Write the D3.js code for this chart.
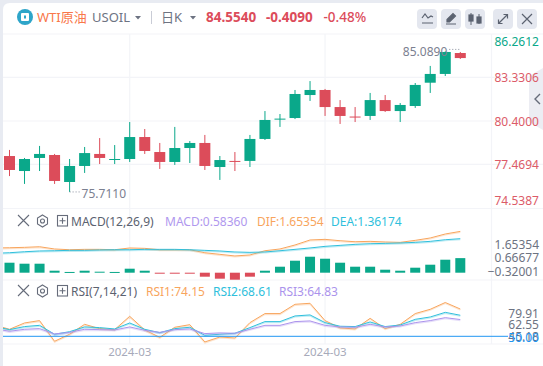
<!DOCTYPE html>
<html>
<head>
<meta charset="utf-8">
<script src="https://cdnjs.cloudflare.com/ajax/libs/d3/7.8.5/d3.min.js"></script>
<style>
  html, body { margin: 0; padding: 0; background: #fff; overflow: hidden; }
  text { font-family: "Noto Sans", "Noto Sans CJK SC", sans-serif; }
  .axis path, .axis line { display: none; }
  .axis text { font-size: 12px; }
</style>
</head>
<body>
<div id="chart"></div>
<script>
// candles, left to right
var opens  = [78.04,77.03,77.91,78.11,76.29,77.37,78.18,77.79,77.84,79.32,78.31,77.64,78.58,78.92,77.30,77.71,77.71,79.19,80.53,80.60,82.15,82.49,81.34,80.70,80.74,81.81,81.07,81.41,82.98,83.57,84.98];
var closes = [77.10,77.84,78.18,76.36,77.37,78.24,77.91,77.84,79.32,78.38,77.64,78.58,78.92,77.37,77.77,77.66,79.19,80.47,80.56,82.22,82.49,81.34,80.74,80.67,81.81,81.07,81.48,82.83,83.57,85.05,84.64];
var highs  = [78.45,77.91,78.72,78.18,77.84,78.65,79.25,78.78,80.33,79.86,78.92,80.00,79.05,79.46,78.04,78.31,79.46,81.07,80.87,82.49,83.09,82.56,81.81,81.34,82.29,82.15,81.61,82.96,84.11,85.089,85.05];
var lows   = [76.69,76.16,77.03,76.16,75.62,76.90,77.50,77.50,77.64,78.18,77.17,77.44,77.57,77.10,76.43,77.03,77.30,79.12,80.00,80.53,81.75,80.74,80.20,80.33,80.47,81.01,80.33,81.28,82.29,83.43,84.58];
var priceTicks = [86.2612,83.3306,80.4000,77.4694,74.5387];

// macd (the lines start one bar before the first candle, cut by the pane edge)
var macdHist = [0.40,0.36,0.36,0.08,0.03,0.08,0.04,0.03,0.16,0.08,-0.03,-0.03,-0.03,-0.16,-0.24,-0.28,-0.16,0.08,0.24,0.48,0.64,0.56,0.40,0.24,0.24,0.12,0.08,0.20,0.32,0.52,0.5836];
var dif = [0.99,1.00,1.015,1.04,0.95,0.92,0.935,0.935,0.92,0.99,0.975,0.92,0.92,0.92,0.80,0.735,0.67,0.71,0.88,0.95,1.11,1.31,1.335,1.28,1.24,1.255,1.23,1.215,1.295,1.39,1.55,1.65354];
var dea = [0.775,0.80,0.84,0.87,0.88,0.895,0.895,0.91,0.92,0.92,0.935,0.935,0.935,0.92,0.895,0.87,0.83,0.815,0.83,0.88,0.935,0.99,1.055,1.095,1.135,1.16,1.175,1.19,1.215,1.255,1.32,1.36174];
var macdTicks = [1.65354,0.66677,-0.32001];

// rsi
var rsi1 = [60.0,56.2,61.8,63.9,45.6,51.8,60.6,56.8,55.9,67.7,55.6,49.1,58.0,60.3,45.0,49.4,48.5,62.1,70.1,70.1,78.3,79.2,63.9,57.4,56.5,65.9,56.8,60.6,70.1,73.9,79.91,74.15];
var rsi2 = [58.6,55.9,58.6,59.7,51.8,54.1,58.3,57.7,56.5,61.8,56.2,53.2,56.8,58.0,50.9,51.8,52.7,57.7,63.0,63.0,68.0,68.9,62.1,58.9,58.6,62.7,58.6,60.0,65.0,67.1,71.2,68.61];
var rsi3 = [56.8,54.4,56.2,56.8,52.1,53.5,56.2,55.9,55.6,58.3,55.3,53.5,55.9,56.5,52.4,53.0,52.7,56.2,59.7,59.7,63.0,63.6,59.7,58.3,58.0,60.6,58.3,59.1,62.1,63.9,66.5,64.83];
var rsiTicks = [79.91,62.55,45.18];

var dateLabels = [{index: 8, label: "2024-03"}, {index: 21, label: "2024-03"}];

var green = "#0aa88a", red = "#dc4c5a", grid = "#f3f4f8";
var orange = "#f8a55d", cyan = "#2fbfdc", purple = "#ab93ec", grey = "#6d7382";

var svg = d3.select("#chart").append("svg")
    .attr("width", 543)
    .attr("height", 366)
    .style("display", "block");

// page frame
svg.append("rect").attr("width", 543).attr("height", 366).attr("fill", "#e8ebf2");
svg.append("path").attr("d", "M3,10 Q3,3 10,3 H543 V366 H3 Z").attr("fill", "#fff");

var paneLeft = 3, paneRight = 491.5;
var defs = svg.append("defs");
defs.append("clipPath").attr("id", "pane").append("rect")
    .attr("x", paneLeft).attr("y", 34).attr("width", paneRight - paneLeft).attr("height", 310);

// scales
var x = d3.scaleLinear().domain([0, 30]).range([9.5, 460.3]);
var yPrice = d3.scaleLinear().domain([74.5387, 86.2612]).range([208, 34]);
var yMacd = d3.scaleLinear().domain([0, 1.65354]).range([272.7, 231.4]);
var yRsi = d3.scaleLinear().domain([50, 74.15]).range([336.3, 309]);
var yMacdLabels = d3.scaleLinear().domain([-0.32001, 1.65354]).range([271.3, 243.7]);
var yRsiLabels = d3.scaleLinear().domain([45.18, 79.91]).range([335.5, 313.3]);

// separators and grid
var hLines = [34, 77.4, 121, 164.4, 208.5, 280, 344];
svg.append("g").selectAll("line").data(hLines).enter().append("line")
    .attr("x1", paneLeft).attr("x2", 543)
    .attr("y1", function(d) { return d; }).attr("y2", function(d) { return d; })
    .attr("stroke", grid).attr("stroke-width", 1.2);
svg.append("g").selectAll("line").data(dateLabels).enter().append("line")
    .attr("x1", function(d) { return x(d.index); }).attr("x2", function(d) { return x(d.index); })
    .attr("y1", 34).attr("y2", 344)
    .attr("stroke", grid).attr("stroke-width", 1.2);
svg.append("line").attr("x1", paneRight).attr("x2", paneRight).attr("y1", 34).attr("y2", 344)
    .attr("stroke", grid).attr("stroke-width", 1.2);

// side tab
svg.append("path").attr("d", "M529,76 L543,68 V130 L529,122 Z").attr("fill", "#ecedf3");
svg.append("path").attr("d", "M540,94 L535,99 L540,104").attr("fill", "none").attr("stroke", "#666c7a").attr("stroke-width", 1.4);

// candles
var candles = opens.map(function(o, i) {
  return {i: i, open: o, close: closes[i], high: highs[i], low: lows[i]};
});
var candleColor = function(d) { return d.close >= d.open ? green : red; };
var candle = svg.append("g").attr("clip-path", "url(#pane)").selectAll("g").data(candles).enter().append("g");
candle.append("line")
    .attr("x1", function(d) { return x(d.i); }).attr("x2", function(d) { return x(d.i); })
    .attr("y1", function(d) { return yPrice(d.high); }).attr("y2", function(d) { return yPrice(d.low); })
    .attr("stroke", candleColor).attr("stroke-width", 1);
candle.append("rect")
    .attr("x", function(d) { return x(d.i) - 5.5; })
    .attr("width", 11)
    .attr("y", function(d) { return yPrice(Math.max(d.open, d.close)); })
    .attr("height", function(d) { return Math.max(1, Math.abs(yPrice(d.open) - yPrice(d.close))); })
    .attr("fill", candleColor);

// high / low notes
var note = svg.append("g").attr("fill", "#7b8090").style("font-size", "12px");
note.append("text").attr("x", x(29) + 2).attr("y", yPrice(85.089) + 5).attr("text-anchor", "end").text("85.0890");
note.append("text").attr("x", x(4) + 12).attr("y", yPrice(75.62) + 6).text("75.7110");
svg.append("line").attr("x1", x(29) + 4).attr("x2", x(29) + 15).attr("y1", yPrice(85.089) - 2).attr("y2", yPrice(85.089) - 2)
    .attr("stroke", "#8a8f9d").attr("stroke-dasharray", "1,2");
svg.append("line").attr("x1", x(4)).attr("x2", x(4) + 11).attr("y1", yPrice(75.62)).attr("y2", yPrice(75.62))
    .attr("stroke", "#8a8f9d").attr("stroke-dasharray", "1,2");

// price axis, first and last labels are pushed inside the pane
var priceAxis = svg.append("g").attr("class", "axis")
    .attr("transform", "translate(" + (paneRight - 6) + ",0)")
    .call(d3.axisRight(yPrice).tickValues(priceTicks).tickFormat(d3.format(".4f")));
priceAxis.selectAll("text")
    .attr("fill", function(d, i) { return i === 0 ? green : "#dc5b68"; })
    .attr("dy", function(d, i) { return i === 0 ? "11px" : i === 4 ? "-3.5px" : "4.5px"; });

// macd pane
var hist = svg.append("g").attr("clip-path", "url(#pane)").selectAll("rect").data(macdHist).enter().append("rect")
    .attr("x", function(d, i) { return x(i) - 5; })
    .attr("width", 10)
    .attr("y", function(d) { return yMacd(Math.max(d, 0)); })
    .attr("height", function(d) { return Math.max(1, Math.abs(yMacd(d) - yMacd(0))); })
    .attr("fill", function(d) { return d >= 0 ? green : red; });

function drawLine(values, scale, color) {
  var line = d3.line()
      .x(function(d, i) { return x(i - 1); })
      .y(function(d) { return scale(d); });
  var g = svg.append("g").attr("clip-path", "url(#pane)");
  g.append("path").datum(values).attr("d", line)
      .attr("fill", "none").attr("stroke", color).attr("stroke-opacity", 0.3)
      .attr("stroke-width", 1.2).attr("transform", "translate(0,1)");
  g.append("path").datum(values).attr("d", line)
      .attr("fill", "none").attr("stroke", color).attr("stroke-width", 1);
}
drawLine(dif, yMacd, orange);
drawLine(dea, yMacd, cyan);

svg.append("g").attr("class", "axis")
    .attr("transform", "translate(539,0)")
    .call(d3.axisRight(yMacdLabels).tickValues(macdTicks).tickFormat(d3.format(".5f")).tickPadding(0).tickSize(0))
    .selectAll("text").attr("fill", grey).attr("text-anchor", "end").attr("x", 0).attr("dy", "4.5px");

// rsi pane
drawLine(rsi1, yRsi, orange);
drawLine(rsi2, yRsi, cyan);
drawLine(rsi3, yRsi, purple);
svg.append("line").attr("x1", paneLeft).attr("x2", 508)
    .attr("y1", yRsi(50)).attr("y2", yRsi(50))
    .attr("stroke", "#2196f3").attr("stroke-width", 1);

svg.append("g").attr("class", "axis")
    .attr("transform", "translate(539,0)")
    .call(d3.axisRight(yRsiLabels).tickValues(rsiTicks).tickFormat(d3.format(".2f")).tickPadding(0).tickSize(0))
    .selectAll("text").attr("fill", grey).attr("text-anchor", "end").attr("x", 0).attr("dy", "4.5px");
svg.append("text").attr("x", 539).attr("y", yRsi(50) + 5.5).attr("text-anchor", "end")
    .attr("fill", "#2196f3").style("font-size", "12px").text("50.00");

// dates
svg.append("g").selectAll("text").data(dateLabels).enter().append("text")
    .attr("x", function(d) { return x(d.index); })
    .attr("y", 356)
    .attr("text-anchor", "middle")
    .attr("fill", "#a7aaba")
    .style("font-size", "11.5px")
    .text(function(d) { return d.label; });

// header
var header = svg.append("g");
header.append("circle").attr("cx", 25).attr("cy", 17).attr("r", 8).attr("fill", "#2ea5c9");
header.append("rect").attr("x", 21).attr("y", 13).attr("width", 8).attr("height", 8).attr("rx", 1).attr("fill", "#fff");
header.append("rect").attr("x", 24).attr("y", 15.5).attr("width", 2).attr("height", 3).attr("fill", "#2ea5c9");
var headerText = [
  {x: 37, text: "WTI原油", fill: "#f9774a", weight: 400, size: 13},
  {x: 92, text: "USOIL", fill: grey, weight: 400, size: 13},
  {x: 161, text: "日K", fill: grey, weight: 400, size: 13},
  {x: 206, text: "84.5540", fill: red, weight: 700, size: 13.5},
  {x: 266, text: "-0.4090", fill: red, weight: 700, size: 13.5},
  {x: 323.5, text: "-0.48%", fill: red, weight: 500, size: 13.5}
];
header.selectAll("text").data(headerText).enter().append("text")
    .attr("x", function(d) { return d.x; })
    .attr("y", 21.5)
    .attr("fill", function(d) { return d.fill; })
    .style("font-weight", function(d) { return d.weight; })
    .style("font-size", function(d) { return d.size + "px"; })
    .text(function(d) { return d.text; });
header.append("path").attr("d", "M135,16 h6 l-3,3.5 Z M190,16 h6 l-3,3.5 Z").attr("fill", grey);
header.append("line").attr("x1", 151.5).attr("x2", 151.5).attr("y1", 11).attr("y2", 24).attr("stroke", "#c9ccd6");

// toolbar buttons
var buttonX = [417, 441, 465, 493, 517];
header.selectAll("rect.btn").data(buttonX).enter().append("rect").attr("class", "btn")
    .attr("x", function(d) { return d; }).attr("y", 9)
    .attr("width", 20).attr("height", 20).attr("rx", 4).attr("fill", "#e4e7ef");
var ic = header.append("g").attr("fill", "none").attr("stroke", "#5b6270").attr("stroke-width", 1.2);
ic.append("path").attr("d", "M422,18 L425,14 L428,18 L431,16 L433,17 M422,23 H433");
ic.append("path").attr("d", "M447,22 L447,19.5 L453,13.5 L455.5,16 L449.5,22 Z M446,24 H456").attr("fill", "#5b6270");
ic.append("path").attr("d", "M471,13 V25 M479,14 V24").attr("stroke-width", 1);
ic.append("rect").attr("x", 469).attr("y", 15).attr("width", 4).attr("height", 6).attr("fill", "#5b6270");
ic.append("rect").attr("x", 477).attr("y", 17).attr("width", 4).attr("height", 6).attr("fill", "#5b6270");
ic.append("path").attr("d", "M499,23 L507,15 M503.5,14.5 H507.5 V18.5 M498.5,19.5 V23.5 H502.5");
ic.append("path").attr("d", "M522,14 L532,24 M532,14 L522,24");

// pane titles
function paneTitle(y, items) {
  var g = svg.append("g");
  var c = g.append("g").attr("fill", "none").attr("stroke", "#666c7a").attr("stroke-width", 1.1);
  c.append("path").attr("d", "M18," + (y - 6) + " l11,11 M29," + (y - 6) + " l-11,11");
  c.append("path").attr("d", "M42.5," + (y - 6) + " l5,3 v6 l-5,3 l-5,-3 v-6 Z");
  c.append("circle").attr("cx", 42.5).attr("cy", y).attr("r", 2);
  c.append("rect").attr("x", 57.5).attr("y", y - 5.5).attr("width", 10).attr("height", 10.5);
  c.append("path").attr("d", "M59.5," + (y - 0.2) + " h6 M62.5," + (y - 3.2) + " v6");
  g.selectAll("text").data(items).enter().append("text")
      .attr("x", function(d) { return d.x; })
      .attr("y", y + 4.5)
      .attr("fill", function(d) { return d.fill; })
      .style("font-size", "12px")
      .text(function(d) { return d.text; });
}
paneTitle(221, [
  {x: 71, text: "MACD(12,26,9)", fill: "#5b6270"},
  {x: 165, text: "MACD:0.58360", fill: "#b098ee"},
  {x: 257, text: "DIF:1.65354", fill: orange},
  {x: 331, text: "DEA:1.36174", fill: cyan}
]);
paneTitle(291, [
  {x: 71, text: "RSI(7,14,21)", fill: "#5b6270"},
  {x: 146, text: "RSI1:74.15", fill: orange},
  {x: 213, text: "RSI2:68.61", fill: cyan},
  {x: 279, text: "RSI3:64.83", fill: purple}
]);
</script>
</body>
</html>
